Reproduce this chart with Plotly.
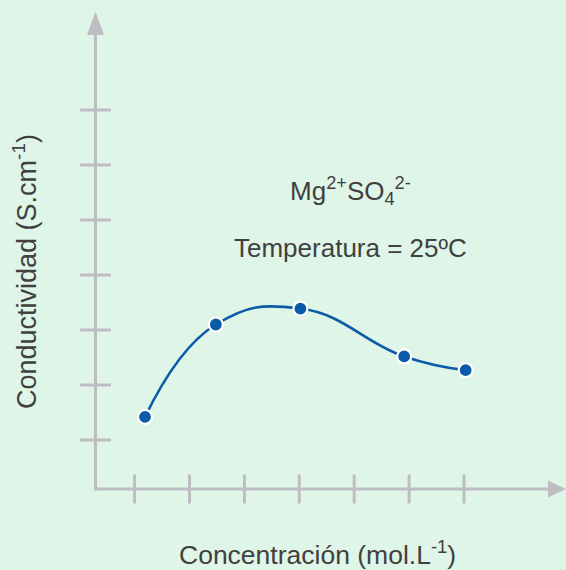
import plotly.graph_objects as go

# ---- data (schematic values, in axis units: tick k at value k) ----
concentracion = [1.19, 2.48, 4.02, 5.91, 7.03]
conductividad = [1.42, 3.10, 3.39, 2.52, 2.27]
x_ticks = [1, 2, 3, 4, 5, 6, 7]
y_ticks = [1, 2, 3, 4, 5, 6, 7]

W, H = 566, 570
BG = "#dff5e7"
AX = "#bebec2"
BLUE = "#0a5ca8"
TXT = "#404040"

# axis ranges so that one unit ~55 px
UX, UY = 54.9, 55.0
x_range = [1 - 134.6 / UX, 1 + (W - 134.6) / UX]
y_range = [1 + (440 - H) / UY, 1 + 440 / UY]

x0 = 1 + (95.5 - 134.6) / UX   # origin x (value)
y0 = 1 - 49 / UY               # origin y (value)
x_end = 1 + (548 - 134.6) / UX
x_tip = 1 + (566 - 134.6) / UX
y_end = 1 + (440 - 35) / UY
y_tip = 1 + (440 - 11.5) / UY
tick_x = 15.5 / UX
tick_y = 14.5 / UY

shapes = []
line = dict(color=AX, width=3)
shapes.append(dict(type="line", xref="x", yref="y", x0=x0, x1=x0, y0=y0 - 1.5 / UY, y1=y_end, line=line))
shapes.append(dict(type="line", xref="x", yref="y", x0=x0 - 1.5 / UX, x1=x_end, y0=y0, y1=y0, line=line))
for t in x_ticks:
    shapes.append(dict(type="line", xref="x", yref="y", x0=t, x1=t, y0=y0 - tick_y, y1=y0 + tick_y, line=line))
for t in y_ticks:
    shapes.append(dict(type="line", xref="x", yref="y", x0=x0 - tick_x, x1=x0 + tick_x, y0=t, y1=t, line=line))
# arrow heads
hw_x = 8.5 / UX
hw_y = 8.5 / UY
shapes.append(dict(type="path", xref="x", yref="y",
                   path=f"M {x0 - hw_x},{y_end} L {x0 + hw_x},{y_end} L {x0},{y_tip} Z",
                   fillcolor=AX, line=dict(width=0)))
shapes.append(dict(type="path", xref="x", yref="y",
                   path=f"M {x_end},{y0 - hw_y} L {x_end},{y0 + hw_y} L {x_tip},{y0} Z",
                   fillcolor=AX, line=dict(width=0)))

fig = go.Figure()
fig.add_trace(go.Scatter(
    x=concentracion, y=conductividad, mode="lines+markers",
    line=dict(color=BLUE, width=2.6, shape="spline", smoothing=1.3),
    marker=dict(size=14, color=BLUE, line=dict(color="white", width=2.2)),
    hoverinfo="skip", showlegend=False,
))

FONT = "Liberation Sans, Arial, Helvetica, sans-serif"
ann = [
    dict(text="Mg<sup>2+</sup>SO<sub>4</sub><sup>2-</sup>", x=350 / W, y=1 - 191 / H, font_size=26),
    dict(text="Temperatura = 25ºC", x=350 / W, y=1 - 248 / H, font_size=26),
    dict(text="Concentración (mol.L<sup>-1</sup>)", x=317 / W, y=1 - 553 / H, font_size=26.5),
    dict(text="Conductividad (S.cm<sup>-1</sup>)", x=25 / W, y=1 - 272 / H, font_size=27, textangle=-90),
]
annotations = []
for a in ann:
    d = dict(xref="paper", yref="paper", showarrow=False, xanchor="center", yanchor="middle",
             font=dict(family=FONT, color=TXT, size=a.pop("font_size")))
    d.update(a)
    annotations.append(d)

fig.update_layout(
    width=W, height=H, margin=dict(l=0, r=0, t=0, b=0),
    paper_bgcolor=BG, plot_bgcolor=BG,
    xaxis=dict(range=x_range, visible=False, fixedrange=True),
    yaxis=dict(range=y_range, visible=False, fixedrange=True),
    shapes=shapes, annotations=annotations,
)
fig.write_html("out.html", config={"displayModeBar": False},
               post_script="document.body.style.margin='0';document.body.style.overflow='hidden';")
